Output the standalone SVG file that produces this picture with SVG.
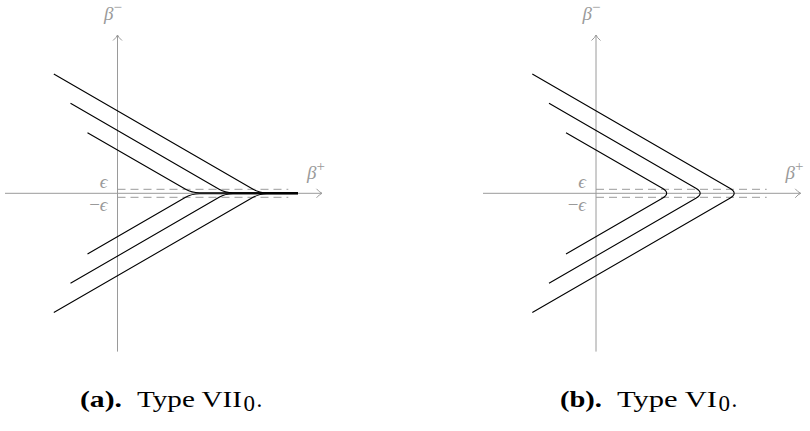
<svg xmlns="http://www.w3.org/2000/svg" width="810" height="431" viewBox="0 0 810 431">
<defs>
<style>
.axis{stroke:#9a9a9a;stroke-width:1;fill:none}
.dash{stroke:#9a9a9a;stroke-width:1;fill:none;stroke-dasharray:8 5}
.curve{stroke:#000;stroke-width:1.1;fill:none;stroke-linejoin:round}
.lab{font-family:"Liberation Serif","DejaVu Serif",serif;font-style:italic;font-size:19px;fill:#9a9a9a}
.sup{font-size:15px;font-style:normal}
.cap{font-family:"Liberation Serif","DejaVu Serif",serif;font-size:23px;fill:#000}
</style>
<marker id="to" viewBox="-7 -5 8 10" refX="0" refY="0" markerWidth="8" markerHeight="10" markerUnits="userSpaceOnUse" orient="auto" overflow="visible">
<path d="M-5.5,-4.5 Q-2.5,-1 0,0 Q-2.5,1 -5.5,4.5" fill="none" stroke="#9a9a9a" stroke-width="1"/>
</marker>
</defs>
<rect width="810" height="431" fill="#fff"/>

<g id="panel-a">
<g id="axes-a">
<line class="axis" x1="5" y1="193.3" x2="322" y2="193.3" marker-end="url(#to)"/>
<line class="axis" x1="117.5" y1="351.6" x2="117.5" y2="35" marker-end="url(#to)"/>
<line class="dash" x1="117.5" y1="189.3" x2="288.3" y2="189.3"/>
<line class="dash" x1="117.5" y1="197.3" x2="288.3" y2="197.3"/>
</g>
<g id="curves-a">
<path class="curve" d="M53.8,74 L253.1,189.3 C257.6,191.9 261,192.8 267,192.8 L298,192.8"/>
<path class="curve" d="M53.8,312.6 L253.1,197.3 C257.6,194.7 261,193.8 267,193.8 L298,193.8"/>
<path class="curve" d="M70.5,103.3 L219.1,189.3 C223.6,191.9 227,192.8 233,192.8 L298,192.8"/>
<path class="curve" d="M70.5,283.3 L219.1,197.3 C223.6,194.7 227,193.8 233,193.8 L298,193.8"/>
<path class="curve" d="M87.5,132.7 L185.6,189.3 C190.1,191.9 193.5,192.8 199.5,192.8 L298,192.8"/>
<path class="curve" d="M87.5,253.9 L185.6,197.3 C190.1,194.7 193.5,193.8 199.5,193.8 L298,193.8"/>
</g>
<g id="labels-a">
<text class="lab" x="104" y="20">β<tspan class="sup" dy="-8">−</tspan></text>
<text class="lab" x="307" y="179">β<tspan class="sup" dy="-8">+</tspan></text>
<text class="lab" x="107.5" y="188" text-anchor="end">ϵ</text>
<text class="lab" x="107.5" y="211" text-anchor="end"><tspan font-style="normal">−</tspan>ϵ</text>
</g>
<g id="caption-a">
<text class="cap" x="80" y="407" font-weight="bold" textLength="42" lengthAdjust="spacingAndGlyphs">(a).</text>
<text class="cap" x="137" y="407" textLength="105" lengthAdjust="spacingAndGlyphs">Type VII</text>
<text class="cap" x="243.5" y="411" font-size="14">0<tspan dx="1.5" dy="-4" font-size="23">.</tspan></text>
</g>
</g>

<g id="panel-b">
<g id="axes-b">
<line class="axis" x1="483" y1="193.3" x2="800.7" y2="193.3" marker-end="url(#to)"/>
<line class="axis" x1="596" y1="351.6" x2="596" y2="35" marker-end="url(#to)"/>
<line class="dash" x1="596" y1="189.3" x2="766.7" y2="189.3"/>
<line class="dash" x1="596" y1="197.3" x2="766.7" y2="197.3"/>
</g>
<g id="curves-b">
<path class="curve" d="M532.3,74 L729.86,188.3 Q738.5,193.3 729.86,198.3 L532.3,312.6"/>
<path class="curve" d="M549,103.3 L695.86,188.3 Q704.5,193.3 695.86,198.3 L549,283.3"/>
<path class="curve" d="M566,132.7 L662.34,188.3 Q671,193.3 662.34,198.3 L566,253.9"/>
</g>
<g id="labels-b">
<text class="lab" x="582.5" y="20">β<tspan class="sup" dy="-8">−</tspan></text>
<text class="lab" x="785.5" y="179">β<tspan class="sup" dy="-8">+</tspan></text>
<text class="lab" x="586" y="188" text-anchor="end">ϵ</text>
<text class="lab" x="586" y="211" text-anchor="end"><tspan font-style="normal">−</tspan>ϵ</text>
</g>
<g id="caption-b">
<text class="cap" x="560" y="407" font-weight="bold" textLength="42" lengthAdjust="spacingAndGlyphs">(b).</text>
<text class="cap" x="617" y="407" textLength="100" lengthAdjust="spacingAndGlyphs">Type VI</text>
<text class="cap" x="718.5" y="411" font-size="14">0<tspan dx="1.5" dy="-4" font-size="23">.</tspan></text>
</g>
</g>
</svg>
